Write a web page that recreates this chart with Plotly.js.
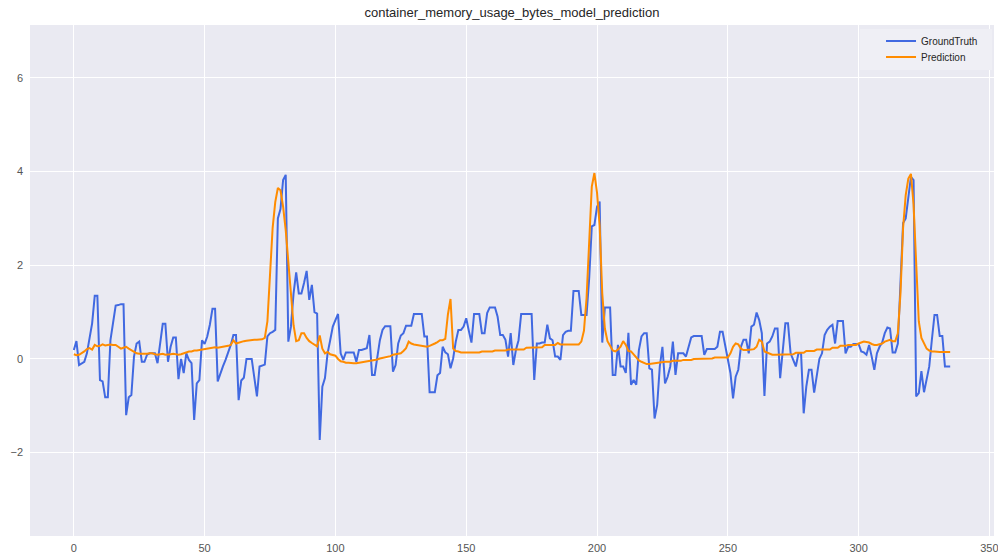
<!DOCTYPE html>
<html>
<head>
<meta charset="utf-8">
<script src="https://cdn.plot.ly/plotly-3.0.1.min.js"></script>
<style>html,body{margin:0;padding:0;background:#fff;}#chart{width:998px;height:555px;}</style>
</head>
<body>
<div id="chart"></div>
<script>
const chartTitle = "container_memory_usage_bytes_model_prediction";
const seriesNames = ["GroundTruth", "Prediction"];
const xTicks = [0, 50, 100, 150, 200, 250, 300, 350];
const yTicks = [-2, 0, 2, 4, 6];

const groundTruth = [
0.19,0.38,-0.13,-0.10,-0.06,0.12,0.48,0.76,1.35,1.35,
-0.45,-0.48,-0.82,-0.82,0.40,0.76,1.14,1.15,1.17,1.17,
-1.20,-0.82,-0.77,0.05,0.33,0.37,-0.06,-0.06,0.09,0.12,
0.12,0.12,-0.09,0.40,0.75,0.75,-0.06,0.26,0.46,0.46,
-0.43,0.00,-0.30,0.12,-0.02,-0.09,-1.30,-0.52,-0.45,0.40,
0.32,0.48,0.73,1.07,1.07,-0.48,-0.30,-0.16,-0.02,0.12,
0.30,0.51,0.51,-0.88,-0.46,-0.40,0.00,0.00,0.00,-0.40,
-0.80,-0.16,-0.14,-0.12,0.48,0.55,0.58,0.62,3.00,3.20,
3.82,3.93,0.37,0.69,1.40,1.85,1.40,1.40,1.62,1.88,
1.26,1.58,1.00,0.97,-1.73,-0.59,-0.41,0.12,0.40,0.69,
0.83,0.96,0.12,-0.02,0.14,0.14,0.14,0.14,-0.06,0.19,
0.19,0.21,0.23,0.51,-0.34,-0.34,0.05,0.40,0.62,0.70,
0.70,0.70,-0.27,-0.13,0.33,0.50,0.55,0.71,0.71,0.71,
0.96,0.96,0.96,0.96,0.48,0.48,-0.71,-0.71,-0.71,-0.35,
-0.30,0.26,0.14,0.10,-0.20,0.01,0.37,0.62,0.62,0.69,
0.87,0.60,0.35,0.96,0.96,0.96,0.55,0.55,0.98,1.10,
1.10,1.10,0.90,0.51,0.51,0.41,0.05,0.55,-0.13,0.19,
0.40,0.96,0.96,0.96,0.96,0.96,-0.45,0.33,0.33,0.35,
0.35,0.73,0.44,0.40,0.05,0.05,-0.02,0.51,0.58,0.60,
0.60,1.45,1.45,1.45,0.94,0.94,0.94,1.72,2.83,2.86,
3.25,3.36,0.35,1.10,1.10,1.10,-0.34,-0.34,0.30,-0.16,
-0.16,-0.30,0.56,-0.55,-0.45,-0.55,0.19,0.48,0.55,0.55,
-0.20,-0.23,-1.27,-0.98,-0.16,0.26,-0.52,-0.38,-0.16,0.37,
-0.34,0.12,0.12,0.12,0.05,0.26,0.46,0.49,0.49,0.49,
0.49,0.09,0.21,0.21,0.21,0.21,0.26,0.58,0.58,0.30,
0.01,-0.30,-0.84,-0.38,-0.23,0.26,0.41,0.41,0.12,0.69,
0.73,0.99,0.83,0.55,-0.79,0.33,0.37,0.48,0.65,0.65,
-0.41,0.26,0.76,0.76,0.12,-0.02,-0.16,0.12,0.12,-1.16,
-0.59,-0.23,-0.23,-0.72,-0.30,0.00,0.12,0.51,0.62,0.69,
0.73,0.33,0.81,0.81,0.81,0.12,0.26,0.26,0.32,0.32,
0.32,0.16,0.14,0.09,0.30,0.05,-0.23,0.12,0.26,0.35,
0.55,0.67,0.65,0.14,0.14,0.33,1.54,2.90,3.00,3.50,
3.89,3.82,-0.80,-0.73,-0.26,-0.71,-0.45,-0.16,0.41,0.94,
0.94,0.49,0.49,-0.16,-0.16,-0.16
];

const prediction = [
0.10,0.08,0.09,0.12,0.16,0.21,0.23,0.20,0.30,0.27,
0.28,0.31,0.29,0.30,0.31,0.30,0.30,0.26,0.22,0.24,
0.26,0.22,0.19,0.15,0.12,0.11,0.11,0.10,0.11,0.12,
0.12,0.10,0.09,0.10,0.11,0.09,0.09,0.10,0.11,0.10,
0.09,0.10,0.12,0.14,0.16,0.16,0.18,0.18,0.19,0.20,
0.21,0.22,0.23,0.24,0.25,0.24,0.25,0.25,0.26,0.28,
0.30,0.40,0.33,0.35,0.37,0.38,0.39,0.40,0.40,0.41,
0.41,0.42,0.42,0.45,0.80,1.80,2.80,3.35,3.65,3.60,
3.25,2.75,2.05,1.30,0.72,0.38,0.40,0.55,0.55,0.45,
0.38,0.34,0.30,0.27,0.50,0.22,0.12,0.15,0.10,0.09,
0.07,0.00,-0.05,-0.06,-0.08,-0.08,-0.09,-0.09,-0.09,-0.08,
-0.07,-0.07,-0.06,-0.05,-0.03,-0.02,-0.01,0.01,0.02,0.03,
0.04,0.06,0.09,0.10,0.11,0.12,0.17,0.23,0.37,0.33,
0.31,0.30,0.29,0.28,0.26,0.26,0.28,0.30,0.33,0.36,
0.40,0.40,0.43,0.95,1.28,0.22,0.17,0.16,0.14,0.14,
0.14,0.14,0.14,0.14,0.14,0.14,0.16,0.16,0.16,0.16,
0.16,0.18,0.18,0.18,0.18,0.18,0.20,0.20,0.20,0.20,
0.20,0.20,0.20,0.24,0.24,0.24,0.24,0.25,0.25,0.25,
0.30,0.30,0.30,0.30,0.30,0.34,0.31,0.31,0.31,0.31,
0.31,0.31,0.31,0.31,0.37,0.60,1.30,2.60,3.68,3.97,
3.55,2.85,1.40,0.65,0.38,0.28,0.18,0.16,0.20,0.26,
0.38,0.30,0.17,0.16,0.10,0.02,-0.03,-0.06,-0.09,-0.11,
-0.11,-0.10,-0.09,-0.08,-0.07,-0.06,-0.06,-0.06,-0.06,-0.04,
-0.04,-0.04,-0.04,-0.02,-0.02,-0.02,-0.02,0.00,0.00,0.00,
0.00,0.01,0.01,0.01,0.01,0.03,0.03,0.03,0.03,0.03,
0.03,0.12,0.26,0.33,0.31,0.22,0.19,0.19,0.19,0.20,
0.21,0.26,0.41,0.37,0.16,0.14,0.12,0.09,0.09,0.09,
0.09,0.10,0.10,0.10,0.10,0.10,0.13,0.13,0.13,0.13,
0.17,0.17,0.17,0.17,0.20,0.20,0.20,0.20,0.20,0.20,
0.24,0.24,0.24,0.28,0.28,0.28,0.30,0.30,0.30,0.30,
0.33,0.35,0.37,0.36,0.35,0.32,0.30,0.30,0.31,0.33,
0.37,0.39,0.41,0.38,0.38,0.55,1.40,2.80,3.50,3.85,
3.95,3.30,1.90,0.80,0.45,0.32,0.22,0.18,0.16,0.16,
0.15,0.15,0.15,0.15,0.15,0.15
];

const traces = [
  {y: groundTruth, name: seriesNames[0], type: "scatter", mode: "lines",
   line: {color: "#4169E1", width: 2}, legend: "legend"},
  {y: prediction, name: seriesNames[1], type: "scatter", mode: "lines",
   line: {color: "#FF8C00", width: 2}, legend: "legend2"}
];

const legendFont = {size: 10, color: "#262626"};
const layout = {
  width: 998, height: 555,
  margin: {l: 30, r: 4, t: 25, b: 19, pad: 0},
  paper_bgcolor: "#ffffff",
  plot_bgcolor: "#EAEAF2",
  font: {family: "Liberation Sans, Arial, sans-serif", color: "#262626"},
  title: {text: chartTitle, x: 0.513, xanchor: "center", y: 0.978, yanchor: "middle",
          font: {size: 13, color: "#262626"}},
  showlegend: true,
  legend: {x: 0.8828, xanchor: "left", y: 0.9687, yanchor: "middle",
           bgcolor: "rgba(0,0,0,0)", borderwidth: 0, font: legendFont},
  legend2: {x: 0.8828, xanchor: "left", y: 0.9374, yanchor: "middle",
            bgcolor: "rgba(0,0,0,0)", borderwidth: 0, font: legendFont},
  shapes: [{type: "rect", xref: "paper", yref: "paper", x0: 0.861, x1: 0.998,
            y0: 0.912, y1: 0.992, fillcolor: "#EFEFF5", line: {width: 0}, layer: "above"}],
  xaxis: {range: [-16.75, 351.75], tickvals: xTicks, showgrid: true, gridcolor: "#ffffff",
          gridwidth: 1, zeroline: false, showline: false, ticks: "",
          tickfont: {size: 11, color: "#555555"}, ticklabelstandoff: 4,
          ticklabeloverflow: "allow"},
  yaxis: {range: [-3.78, 7.13], tickvals: yTicks, showgrid: true, gridcolor: "#ffffff",
          gridwidth: 1, zeroline: false, showline: false, ticks: "",
          tickfont: {size: 11, color: "#555555"}, ticklabelstandoff: 6}
};

Plotly.newPlot("chart", traces, layout, {displayModeBar: false, staticPlot: true});
</script>
</body>
</html>
